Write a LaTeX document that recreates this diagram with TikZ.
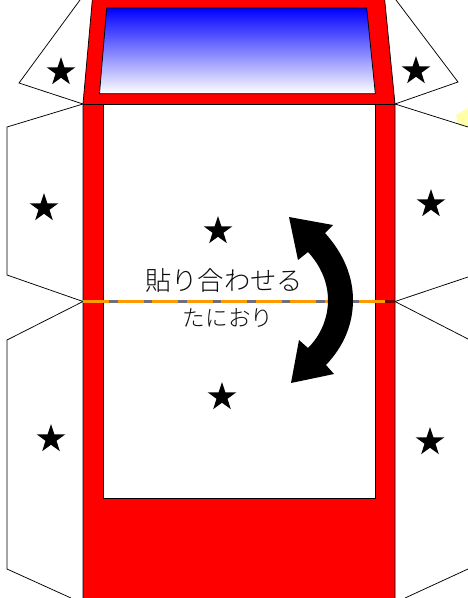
\documentclass[tikz,border=0pt]{standalone}
\usepackage{fontspec}
\newfontfamily\jpfont{Noto Sans CJK JP Light}
\usetikzlibrary{shapes.geometric}
\definecolor{foldorange}{RGB}{255,153,0}
\definecolor{foldgray}{RGB}{110,110,125}
\definecolor{folddark}{RGB}{120,0,0}
\definecolor{flapyellow}{RGB}{255,255,170}
\tikzset{
  flap/.style={draw=black, fill=white, line width=.75pt},
  redpart/.style={draw=black, fill=red, line width=.75pt},
  blackstar/.style={star, star points=5, star point ratio=2.6, fill=black, inner sep=0pt, minimum size=30pt},
  foldtext/.style={inner sep=0pt, text=black!95},
}
\begin{document}
\begin{tikzpicture}[x=1pt, y=-1pt]
\useasboundingbox (0,0) rectangle (468,598);
% side flaps
\draw[flap] (80,0) -- (19,83) -- (83,104);
\draw[flap] (83,104) -- (7,127) -- (7,275) -- (83,301.5);
\draw[flap] (83,301.5) -- (7,340) -- (7,569) -- (71,598);
\fill[flapyellow] (458,125) -- (456,115) -- (468,108) -- (468,127) -- cycle;
\draw[flap] (396,0) -- (458,82) -- (395,104);
\draw[flap] (395,104) -- (468,127);
\draw[flap] (395,301.5) -- (468,277);
\draw[flap] (395,301.5) -- (468,339);
\draw[flap] (405,598) -- (468,569);
% red body
\draw[redpart] (92.5,-2) -- (83,104) -- (83,600) -- (395,600) -- (395,104) -- (384.5,-2) -- cycle;
\draw[flap] (103,104) rectangle (375,498);
\draw[line width=.75pt] (83,104) -- (395,104);
% fold line
\fill[foldgray] (83,300.4) rectangle (385,302.6);
\fill[folddark] (385,300.4) rectangle (395,302.6);
\foreach \xa in {83,117.5,152,186.5,221,255.5,290,324.5,359}
  \fill[foldorange] (\xa,300.4) rectangle (\xa+26,302.6);
% window
\draw[draw=black, top color=blue, bottom color=white, line width=.75pt] (106.7,8) -- (99.5,93.7) -- (375.3,93.7) -- (366.7,8) -- cycle;
% stars
\node[blackstar] (stara) at (61,72) {};
\node[blackstar] (starb) at (416,71) {};
\node[blackstar] (starc) at (44,208) {};
\node[blackstar] (stard) at (431,204) {};
\node[blackstar] (stare) at (218,231) {};
\node[blackstar] (starf) at (222,397) {};
\node[blackstar] (starg) at (51,439) {};
\node[blackstar] (starh) at (430,442) {};
% fold arrow
\fill[black] (289,217) -- (333,225) -- (325,233) .. controls (344,254) and (353,277) .. (353,300)
  .. controls (353,324) and (344,346) .. (326,365) -- (334,374) -- (291,383) -- (299,340) -- (308,348)
  .. controls (321,335) and (328,318) .. (328,300) .. controls (328,283) and (321,266) .. (308,252)
  -- (298,260) -- cycle;
% labels
\node[foldtext, font=\jpfont\fontsize{26.3}{26.3}\selectfont] (fold) at (224,280) {貼り合わせる};
\node[foldtext, font=\jpfont\fontsize{22.6}{22.6}\selectfont] (valley) at (228,318) {たにおり};
\end{tikzpicture}
\end{document}
